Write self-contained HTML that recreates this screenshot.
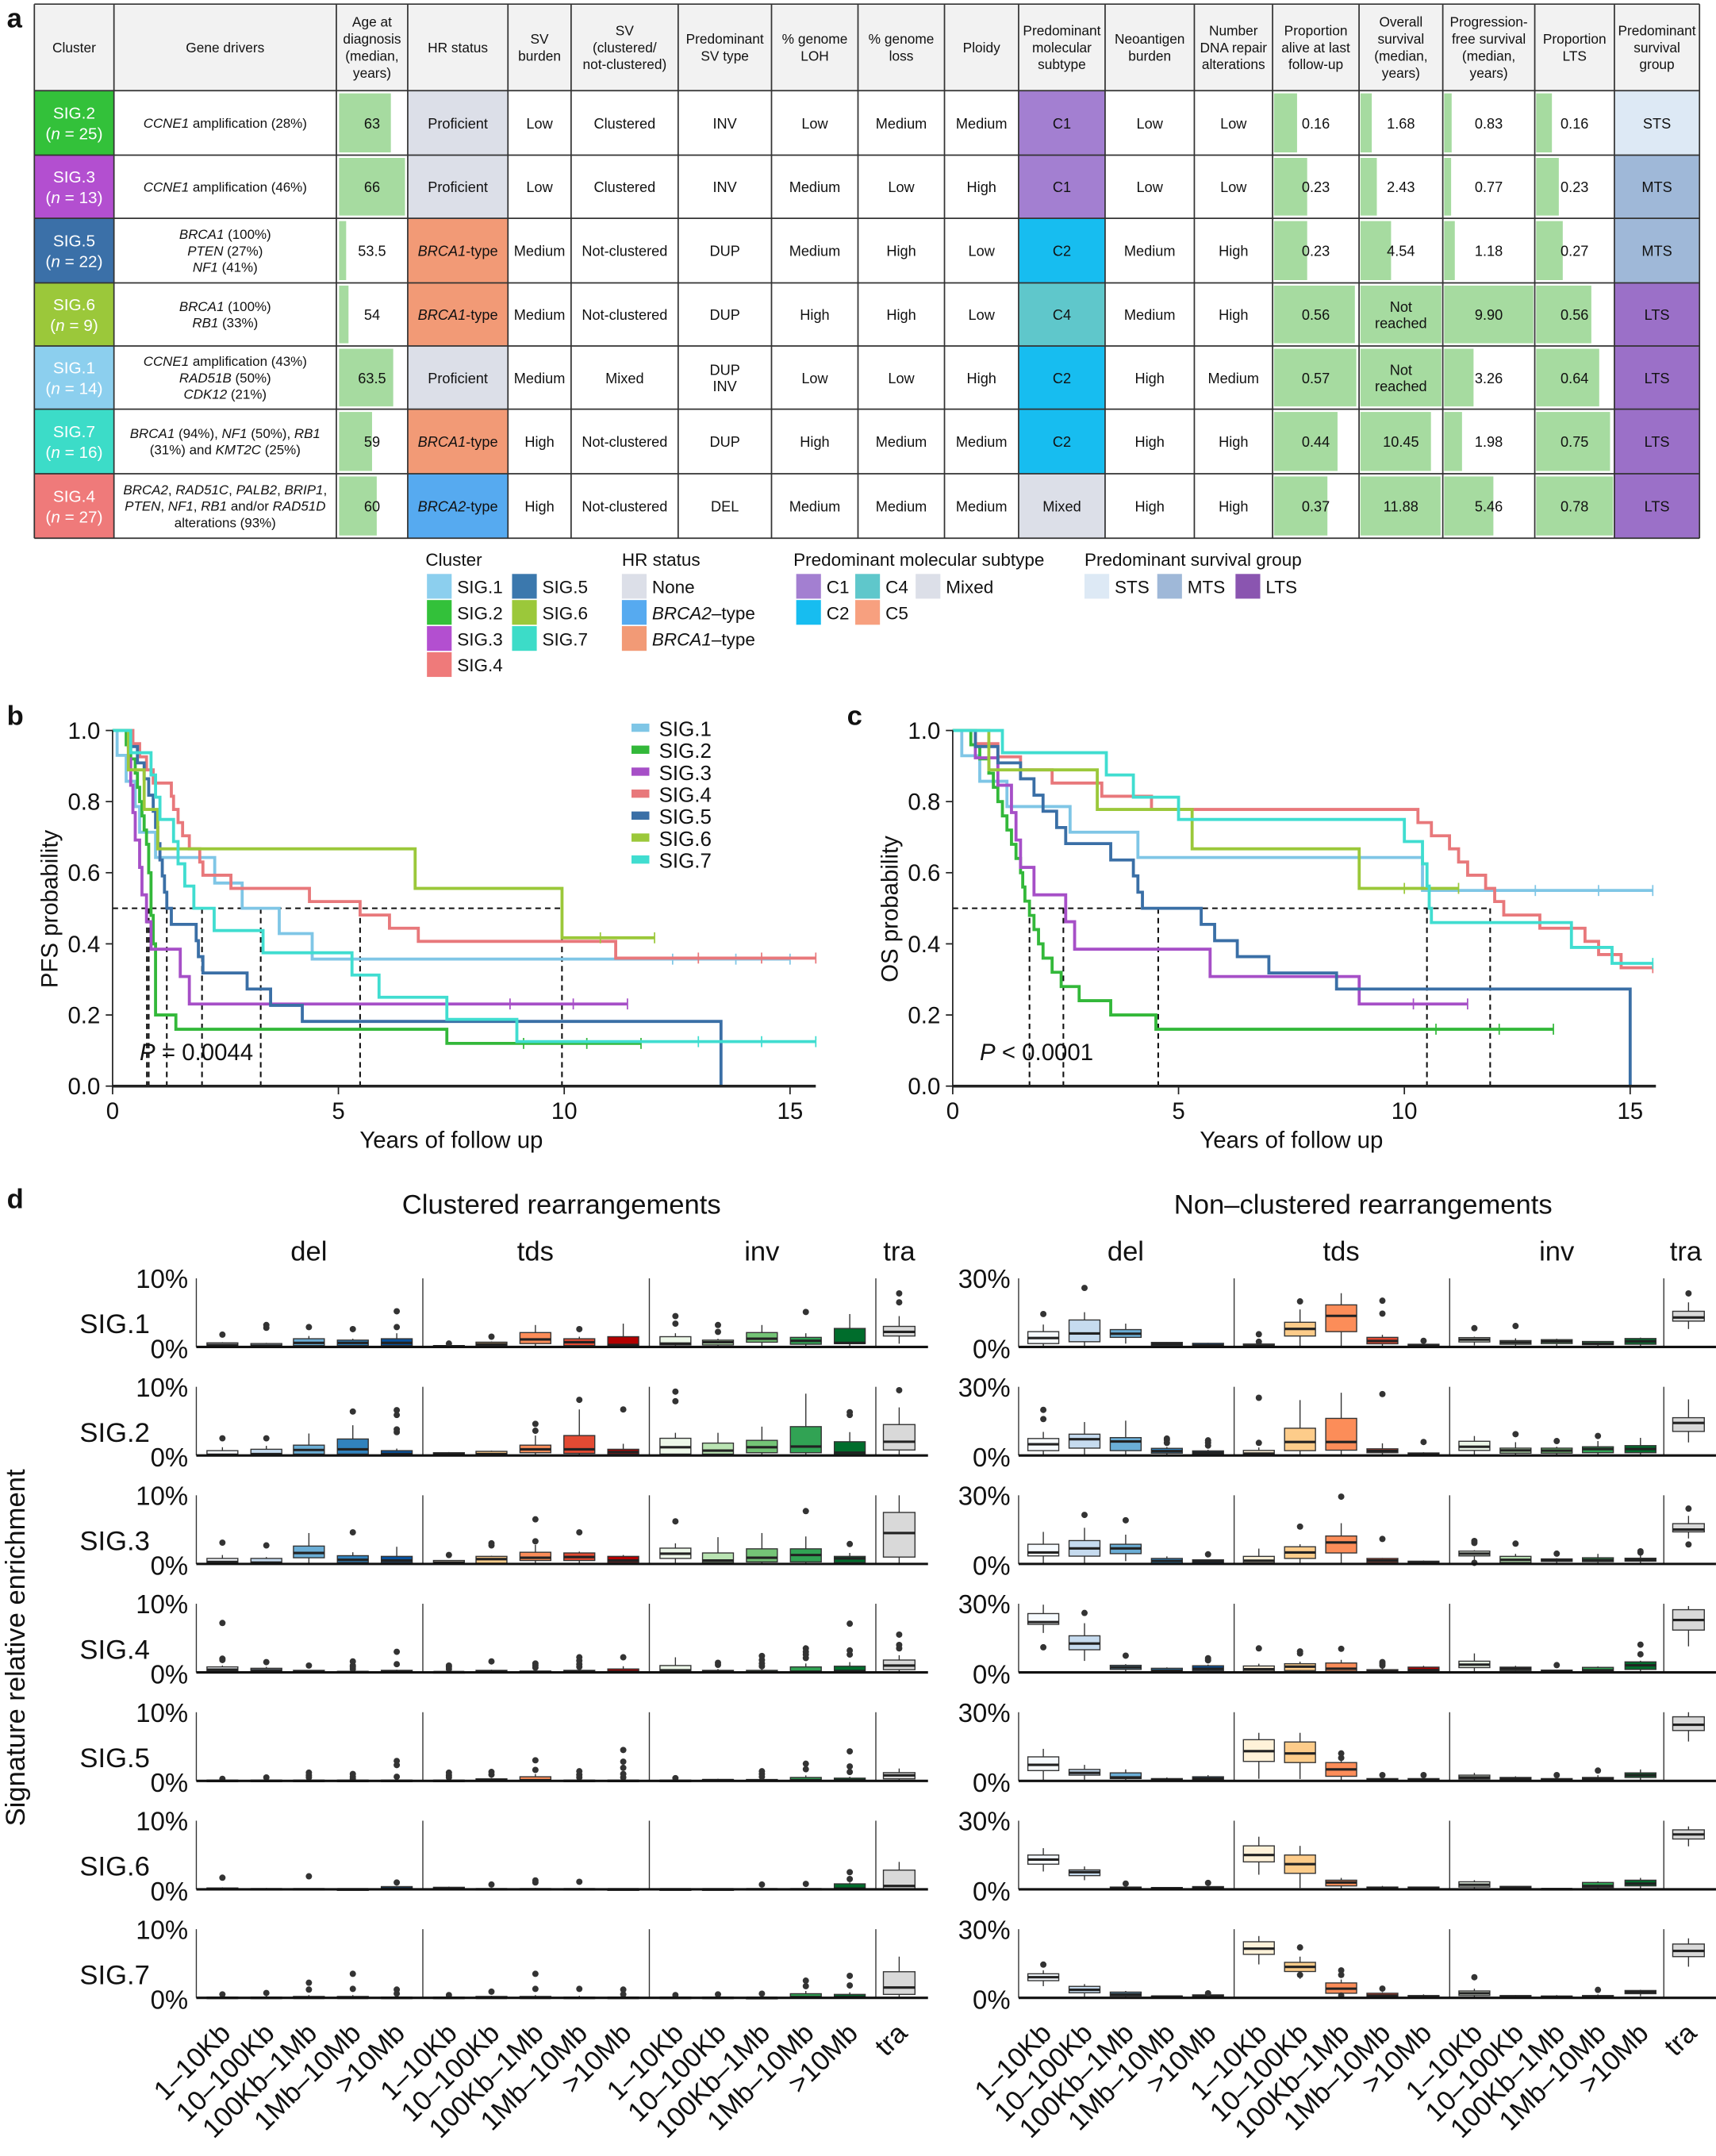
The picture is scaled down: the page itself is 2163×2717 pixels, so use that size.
<!DOCTYPE html>
<html><head><meta charset="utf-8"><style>
html,body{margin:0;padding:0;background:#fff}
svg{display:block}
text{font-family:"Liberation Sans",sans-serif;fill:#111}
</style></head><body>
<svg id="s" xmlns="http://www.w3.org/2000/svg" width="2163" height="2717" viewBox="0 0 1250 1570.2"></svg>
<script>
const S=document.getElementById('s');let h='';
function T(x,y,t,sz,opt){opt=opt||{};h+=`<text x="${x}" y="${y}" font-size="${sz}" text-anchor="${opt.a||'start'}"${opt.i?' font-style="italic"':''}${opt.b?' font-weight="bold"':''}${opt.f?` fill="${opt.f}" style="fill:${opt.f}"`:''}${opt.tr?` transform="${opt.tr}"`:''}>${t}</text>`;}
function R(x,y,w,hh,f,st){h+=`<rect x="${x}" y="${y}" width="${w}" height="${hh}" fill="${f}"${st?` stroke="${st}" stroke-width="0.8"`:''}/>`;}
function L(x1,y1,x2,y2,c,w,d){h+=`<line x1="${x1}" y1="${y1}" x2="${x2}" y2="${y2}" stroke="${c||'#222'}" stroke-width="${w||1}"${d?` stroke-dasharray="${d}"`:''}/>`;}
// ---------- panel a table ----------
T(5,20,'a',20,{b:1});
const cx=[25,83,245,297,370,416,494,562,625,688,742,805,870,927,990,1051,1118,1176,1238];
const ry=[3,66,113,159,206,252,298,345,392];
R(25,3,1213,63,'#f2f2f2');
const hdr=[['Cluster'],['Gene drivers'],['Age at','diagnosis','(median,','years)'],['HR status'],['SV','burden'],['SV','(clustered/','not-clustered)'],['Predominant','SV type'],['% genome','LOH'],['% genome','loss'],['Ploidy'],['Predominant','molecular','subtype'],['Neoantigen','burden'],['Number','DNA repair','alterations'],['Proportion','alive at last','follow-up'],['Overall','survival','(median,','years)'],['Progression-','free survival','(median,','years)'],['Proportion','LTS'],['Predominant','survival','group']];
hdr.forEach((a,i)=>{const m=(cx[i]+cx[i+1])/2;const y0=34.5-(a.length-1)*6.2+3.5;a.forEach((t,j)=>T(m,y0+j*12.4,t,10,{a:'middle'}));});
const cl=[['SIG.2','25','#33c13a'],['SIG.3','13','#b34fd0'],['SIG.5','22','#3b70a8'],['SIG.6','9','#9bc83a'],['SIG.1','14','#8ccfee'],['SIG.7','16','#3cdcc8'],['SIG.4','27','#ef7a7a']];
const genes=[['<tspan font-style="italic">CCNE1</tspan> amplification (28%)'],['<tspan font-style="italic">CCNE1</tspan> amplification (46%)'],['<tspan font-style="italic">BRCA1</tspan> (100%)','<tspan font-style="italic">PTEN</tspan> (27%)','<tspan font-style="italic">NF1</tspan> (41%)'],['<tspan font-style="italic">BRCA1</tspan> (100%)','<tspan font-style="italic">RB1</tspan> (33%)'],['<tspan font-style="italic">CCNE1</tspan> amplification (43%)','<tspan font-style="italic">RAD51B</tspan> (50%)','<tspan font-style="italic">CDK12</tspan> (21%)'],['<tspan font-style="italic">BRCA1</tspan> (94%), <tspan font-style="italic">NF1</tspan> (50%), <tspan font-style="italic">RB1</tspan>','(31%) and <tspan font-style="italic">KMT2C</tspan> (25%)'],['<tspan font-style="italic">BRCA2</tspan>, <tspan font-style="italic">RAD51C</tspan>, <tspan font-style="italic">PALB2</tspan>, <tspan font-style="italic">BRIP1</tspan>,','<tspan font-style="italic">PTEN</tspan>, <tspan font-style="italic">NF1</tspan>, <tspan font-style="italic">RB1</tspan> and/or <tspan font-style="italic">RAD51D</tspan>','alterations (93%)']];
const age=[63,66,53.5,54,63.5,59,60];
const hr=[['Proficient','#dcdfe8'],['Proficient','#dcdfe8'],['BRCA1-type','#f29a76',1],['BRCA1-type','#f29a76',1],['Proficient','#dcdfe8'],['BRCA1-type','#f29a76',1],['BRCA2-type','#56aaf0',1]];
const txt=[['Low','Clustered','INV','Low','Medium','Medium'],['Low','Clustered','INV','Medium','Low','High'],['Medium','Not-clustered','DUP','Medium','High','Low'],['Medium','Not-clustered','DUP','High','High','Low'],['Medium','Mixed','DUP|INV','Low','Low','High'],['High','Not-clustered','DUP','High','Medium','Medium'],['High','Not-clustered','DEL','Medium','Medium','Medium']];
const mol=[['C1','#a37fd1'],['C1','#a37fd1'],['C2','#17bdf0'],['C4','#5fc7cb'],['C2','#17bdf0'],['C2','#17bdf0'],['Mixed','#dcdfe8']];
const neo=[['Low','Low'],['Low','Low'],['Medium','High'],['Medium','High'],['High','Medium'],['High','High'],['High','High']];
const alive=[.16,.23,.23,.56,.57,.44,.37],os=[1.68,2.43,4.54,'NR','NR',10.45,11.88],pfs=[.83,.77,1.18,9.90,3.26,1.98,5.46],lts=[.16,.23,.27,.56,.64,.75,.78];
const grp=[['STS','#dde9f5'],['MTS','#9fb8d8'],['MTS','#9fb8d8'],['LTS','#9b70c8'],['LTS','#9b70c8'],['LTS','#9b70c8'],['LTS','#9b70c8']];
const G='#a6dba0';
for(let r=0;r<7;r++){const y=ry[r+1],y2=ry[r+2],hh=y2-y,my=(y+y2)/2;
 R(25,y,58,hh,cl[r][2]);T(54,my-3,cl[r][0],12,{a:'middle',f:'#fff'});h+=`<text x="54" y="${my+12}" font-size="12" text-anchor="middle" style="fill:#fff">(<tspan font-style="italic">n</tspan> = ${cl[r][1]})</text>`;
 const g=genes[r];g.forEach((t,j)=>h+=`<text x="164" y="${my+3.5-(g.length-1)*6+j*12}" font-size="9.8" text-anchor="middle">${t}</text>`);
 R(247,y+2,Math.max(3,(age[r]-52)/14*48),hh-4,G);T(271,my+4,age[r],10.5,{a:'middle'});
 R(297,y,73,hh,hr[r][1]);if(hr[r][2]){const p=hr[r][0].split('-');h+=`<text x="333.5" y="${my+4}" font-size="10.5" text-anchor="middle"><tspan font-style="italic">${p[0]}</tspan>-${p[1]}</text>`}else T(333.5,my+4,hr[r][0],10.5,{a:'middle'});
 const cols=[[370,416],[416,494],[494,562],[562,625],[625,688],[688,742]];
 txt[r].forEach((t,j)=>{const m=(cols[j][0]+cols[j][1])/2;const ps=t.split('|');ps.forEach((q,k)=>T(m,my+4-(ps.length-1)*6+k*12,q,10.5,{a:'middle'}));});
 R(742,y,63,hh,mol[r][1]);T(773.5,my+4,mol[r][0],10.5,{a:'middle'});
 T(837.5,my+4,neo[r][0],10.5,{a:'middle'});T(898.5,my+4,neo[r][1],10.5,{a:'middle'});
 R(928,y+2,alive[r]/.57*60,hh-4,G);T(958.5,my+4,alive[r].toFixed(2),10.5,{a:'middle'});
 if(os[r]==='NR'){R(991,y+2,59,hh-4,G);T(1020.5,my-2,'Not',10.5,{a:'middle'});T(1020.5,my+10,'reached',10.5,{a:'middle'});}
 else{R(991,y+2,os[r]/12*59,hh-4,G);T(1020.5,my+4,os[r].toFixed(2),10.5,{a:'middle'});}
 R(1052,y+2,pfs[r]/9.9*65,hh-4,G);T(1084.5,my+4,pfs[r].toFixed(2),10.5,{a:'middle'});
 R(1119,y+2,lts[r]/.78*56,hh-4,G);T(1147,my+4,lts[r].toFixed(2),10.5,{a:'middle'});
 R(1176,y,62,hh,grp[r][1]);T(1207,my+4,grp[r][0],10.5,{a:'middle'});
}
ry.forEach(y=>L(25,y,1238,y,'#333',1));cx.forEach(x=>L(x,3,x,392,'#333',1));
// legend
function sw(x,y,c,t,it){R(x,y,18,18,c);if(it){const p=t.split('–');h+=`<text x="${x+22}" y="${y+14}" font-size="13"><tspan font-style="italic">${p[0]}</tspan>–${p[1]}</text>`}else T(x+22,y+14,t,13);}
T(310,412,'Cluster',13);
[['SIG.1','#8ccfee'],['SIG.2','#33c13a'],['SIG.3','#b34fd0'],['SIG.4','#ef7a7a']].forEach((a,i)=>sw(311,418+i*19,a[1],a[0]));
[['SIG.5','#3b78ad'],['SIG.6','#9bc83a'],['SIG.7','#3cdcc8']].forEach((a,i)=>sw(373,418+i*19,a[1],a[0]));
T(453,412,'HR status',13);
sw(453,418,'#dcdfe8','None');sw(453,437,'#56aaf0','BRCA2–type',1);sw(453,456,'#f29a76','BRCA1–type',1);
T(578,412,'Predominant molecular subtype',13);
sw(580,418,'#a37fd1','C1');sw(623,418,'#5fc7cb','C4');sw(667,418,'#dcdfe8','Mixed');sw(580,437,'#17bdf0','C2');sw(623,437,'#f7a07f','C5');
T(790,412,'Predominant survival group',13);
sw(790,418,'#dde9f5','STS');sw(843,418,'#9fb8d8','MTS');sw(900,418,'#8a55b0','LTS');
// ---------- KM ----------
const KC={1:'#7fc6e6',2:'#33b83a',3:'#a64fc7',4:'#e8787b',5:'#3a6fa6',6:'#9bc83a',7:'#40ddd0'};
function km(x0,lab,ylab,ptxt,data,dash,vl,hend){
 const X=t=>x0+t*32.9,Y=s=>791-s*259;
 T(lab[0],528,lab[1],20,{b:1});
 L(X(0),Y(.5),X(hend),Y(.5),'#111',1.2,'4,3');vl.forEach(t=>L(X(t),Y(.5),X(t),791,'#111',1.2,'4,3'));
 for(const k of [1,2,3,4,5,6,7]){const d=data[k];let p=`M${X(0)},${Y(1)}`;for(const [t,s] of d[0]){p+=`H${X(t).toFixed(1)}V${Y(s).toFixed(1)}`;}p+=`H${X(d[1]).toFixed(1)}`;
  h+=`<path d="${p}" fill="none" stroke="${KC[k]}" stroke-width="2.2"/>`;
  const lst=d[0][d[0].length-1];const last=lst[1];if(last>0){[d[1],d[1]-1.2,d[1]-2.6].forEach(t=>{if(t>lst[0]+0.2)L(X(t),Y(last)-4,X(t),Y(last)+4,KC[k],1);});}}
 L(X(0),532,X(0),792,'#222',1);L(X(0),791,X(15.57),791,'#222',2);
 [0,.2,.4,.6,.8,1].forEach(v=>{L(X(0)-5,Y(v),X(0),Y(v),'#222',1);T(X(0)-9,Y(v)+6,v.toFixed(1),17,{a:'end'});});
 [0,5,10,15].forEach(v=>{L(X(v),791,X(v),797,'#222',1);T(X(v),815,v,17,{a:'middle'});});
 T(X(7.5),836,'Years of follow up',17,{a:'middle'});
 T(x0-40,662,ylab,17,{a:'middle',tr:`rotate(-90 ${x0-40} 662)`});
 h+=`<text x="${X(0.6)}" y="772" font-size="17"><tspan font-style="italic">P</tspan> ${ptxt}</text>`;
}
const pfsD={1:[[[0.1,.93],[0.3,.857],[0.5,.786],[0.6,.714],[0.95,.643],[2.26,.571],[2.87,.5],[3.69,.429],[4.42,.357]],15.0],
2:[[[0.3,.96],[0.4,.92],[0.5,.88],[0.55,.84],[0.6,.80],[0.65,.76],[0.7,.72],[0.75,.68],[0.8,.6],[0.85,.48],[0.9,.4],[0.95,.2],[1.4,.16],[7.4,.12]],11.7],
3:[[[0.35,.92],[0.4,.846],[0.45,.769],[0.5,.692],[0.6,.615],[0.65,.538],[0.75,.462],[0.85,.385],[1.5,.308],[1.7,.231]],11.4],
4:[[[0.45,.963],[0.6,.926],[0.75,.889],[0.9,.852],[1.3,.815],[1.35,.778],[1.45,.741],[1.55,.704],[1.7,.667],[1.93,.63],[2.0,.593],[2.62,.556],[4.36,.519],[5.48,.481],[6.13,.444],[6.77,.407],[11.14,.36]],15.57],
5:[[[0.35,.955],[0.55,.909],[0.7,.864],[0.8,.818],[0.9,.773],[0.95,.727],[1.0,.682],[1.05,.636],[1.1,.591],[1.15,.545],[1.2,.5],[1.3,.455],[1.85,.409],[1.9,.364],[2.0,.318],[2.98,.273],[3.5,.227],[4.2,.182],[13.47,0]],13.47],
6:[[[0.35,.889],[0.7,.778],[1.0,.667],[6.7,.556],[9.95,.417]],12.0],
7:[[[0.4,.9375],[0.85,.875],[0.95,.8125],[1.05,.75],[1.35,.6875],[1.45,.625],[1.6,.5625],[1.8,.5],[2.25,.4375],[3.33,.375],[5.3,.3125],[5.9,.25],[7.4,.1875],[8.95,.125]],15.57]};
const osD={1:[[[0.2,.929],[0.6,.857],[1.2,.786],[2.6,.714],[4.1,.643],[10.4,.55]],15.5],
2:[[[0.4,.96],[0.6,.92],[0.8,.88],[0.9,.84],[1.0,.8],[1.1,.76],[1.2,.72],[1.3,.68],[1.4,.64],[1.5,.6],[1.55,.56],[1.6,.52],[1.7,.48],[1.8,.44],[1.9,.4],[2.0,.36],[2.2,.32],[2.4,.28],[2.8,.24],[3.5,.2],[4.5,.16]],13.3],
3:[[[0.5,.923],[1.0,.846],[1.3,.769],[1.4,.692],[1.5,.615],[1.8,.538],[2.5,.462],[2.7,.385],[5.7,.308],[9.0,.231]],11.4],
4:[[[0.5,.963],[1.0,.926],[1.5,.889],[2.2,.852],[3.3,.815],[4.4,.778],[10.3,.741],[10.6,.704],[11.0,.667],[11.2,.63],[11.4,.593],[11.8,.556],[12.0,.519],[12.2,.481],[13.0,.444],[14.0,.407],[14.3,.37],[14.8,.333]],15.5],
5:[[[0.5,.955],[1.0,.909],[1.5,.864],[1.8,.818],[2.0,.773],[2.3,.727],[2.5,.682],[3.5,.636],[4.0,.591],[4.1,.545],[4.2,.5],[5.5,.455],[5.8,.409],[6.3,.364],[7.0,.318],[8.5,.273],[15.0,0]],15.0],
6:[[[0.8,.889],[3.2,.778],[5.3,.667],[9.0,.556]],11.2],
7:[[[1.1,.9375],[3.4,.875],[4.0,.8125],[5.0,.75],[10.0,.6875],[10.4,.625],[10.5,.5625],[10.55,.5],[10.6,.46],[13.7,.39],[14.6,.345]],15.5]};
km(82,[5,'b'],'PFS probability','= 0.0044',pfsD,1,[0.76,0.8,1.2,1.98,3.28,5.48,9.95],9.95);
km(694,[617,'c'],'OS probability','&lt; 0.0001',osD,1,[1.7,2.45,4.55,10.5,11.9],11.9);
[1,2,3,4,5,6,7].forEach((k,i)=>{R(460,527+i*16,13,6,KC[k]);T(480,536+i*16,'SIG.'+k,15);});
// ---------- panel d ----------
T(5,880,'d',20,{b:1});
T(409,884,'Clustered rearrangements',20,{a:'middle'});T(993,884,'Non–clustered rearrangements',20,{a:'middle'});
[['del',225],['tds',390],['inv',555],['tra',655],['del',820],['tds',977],['inv',1134],['tra',1228]].forEach(a=>T(a[1],918,a[0],20,{a:'middle'}));
T(18,1200,'Signature relative enrichment',20,{a:'middle',tr:'rotate(-90 18 1200)'});
const pal=[['#f7fbff','#c6dbef','#6baed6','#3182bd','#08519c'],['#fff2d9','#fdcc8a','#fc8d59','#e34a33','#b30000'],['#edf8e9','#bae4b3','#74c476','#31a354','#006d2c'],['#d9d9d9']];
const LX=[162,194,225,257,289,327,358,390,422,454,492,523,555,587,619,655];
const RX=[760,790,820,850,880,917,947,977,1007,1037,1074,1104,1134,1164,1195,1230];
const LD=[
[[0,.3,.6,.7,[1.8]],[0,.2,.5,.6,[2.8,3.2]],[.2,.6,1.2,1.6,[2.9]],[.2,.6,1,1.2,[2.6]],[.2,.6,1.2,2,[2.9,5.2]],[0,.1,.2,.2,[.5]],[.2,.4,.7,.8,[1.5]],[.5,1.1,2.1,3.2,[]],[.2,.7,1.2,1.5,[2.6]],[0,.3,1.5,3.4,[]],[.3,.5,1.5,2,[3.4,4.5]],[.3,.7,1,1.2,[2.2,3.2]],[.7,1.2,2.1,3.2,[]],[.4,.9,1.4,2,[5.1]],[.5,.6,2.7,4.8,[]],[1.6,2.2,3,4.5,[6.5,7.8]]],
[[0,.1,.7,1.2,[2.5]],[0,.2,.9,1.4,[2.5]],[.2,.8,1.5,3.2,[]],[.2,.9,2.4,4.4,[6.4]],[0,.2,.7,1,[3.4,3.8,5.9,6.6]],[0,.2,.4,.5,[]],[0,.2,.6,.7,[]],[.4,.9,1.5,2.9,[3.6,4.6]],[.3,.9,2.9,6.7,[8.1]],[.2,.5,.9,1.7,[6.7]],[.2,1.2,2.5,3.3,[7.9,9.3]],[.2,.7,1.8,3.3,[]],[.4,1.2,2.2,4.2,[]],[.4,1.3,4.2,9,[]],[.1,.4,2,3.4,[5.9,6.3]],[.8,2,4.5,7,[9.5]]],
[[0,.3,.8,1.3,[3.1]],[0,.2,.8,1,[2.7]],[.9,1.6,2.6,4.5,[]],[.2,.6,1.2,1.7,[4.6]],[.2,.5,1.1,2.5,[]],[0,.2,.5,.5,[1.3]],[.1,.7,1.1,1.2,[2.7,3]],[.5,.9,1.7,2.8,[3.3,6.5]],[.5,1,1.6,1.8,[4.6]],[.2,.5,1.1,1.3,[]],[.8,1.5,2.3,3,[6.2]],[.2,.5,1.6,3.9,[]],[.3,.9,2.2,4.5,[]],[.3,1.3,2.2,4,[7.7]],[.2,.8,1.1,1.6,[2.9]],[1,4.5,7.5,10,[]]],
[[.2,.4,.8,1,[1.8,2,7.2]],[.1,.3,.6,.8,[1.5]],[0,.1,.3,.3,[1]],[0,.05,.15,.2,[.5,.8,1,1.6]],[.05,.1,.3,.4,[1.2,3]],[0,.05,.1,.2,[.5,.8,1]],[0,.1,.3,.4,[1.6]],[0,.05,.2,.3,[.7,1,1.3]],[0,.1,.3,.5,[.8,1.2,1.7,2.2]],[0,.1,.5,.9,[2.2]],[.2,.3,1,2.2,[]],[0,.1,.3,.5,[1.1,1.4]],[0,.05,.3,.5,[.9,1.3,1.8,2.4]],[0,.1,.8,1.3,[2.1,2.6,3,3.5]],[0,.2,.9,1.5,[2.6,3.2,7.1]],[.4,1,1.8,2.5,[3.5,4,5.5]]],
[[0,0,.1,.1,[.3]],[0,0,.1,.1,[.5]],[0,0,.1,.2,[.5,.8,1.2]],[0,0,.1,.2,[.3,.6,1]],[0,0,.1,.2,[.6,2.3,2.9]],[0,0,.1,.1,[.5,.8,1.2]],[0,.1,.3,.4,[.9,1.3]],[0,.1,.6,1,[1.6,3]],[0,0,.1,.2,[.5,.9,1.4]],[0,0,.1,.2,[.5,1,1.9,2.8,4.5]],[0,0,.1,.1,[.4]],[0,.1,.2,.3,[]],[0,.05,.2,.3,[.6,1,1.4]],[0,.1,.5,.8,[1.7,2.5]],[0,.1,.4,.6,[1.3,2.1,4.3]],[.3,.8,1.2,1.8,[]]],
[[0,0,.2,.3,[1.7]],[0,0,.1,.2,[]],[0,0,.1,.1,[1.9]],[0,0,.05,.1,[]],[0,.1,.4,.5,[1]],[0,.1,.3,.4,[]],[0,0,.1,.2,[.7]],[0,0,.1,.2,[1,1.3]],[0,0,.1,.2,[1.1]],[0,0,.05,.1,[]],[0,0,.05,.1,[]],[0,0,.05,.1,[]],[0,0,.1,.2,[.7]],[0,0,.1,.2,[.8]],[0,.1,.8,1,[1.5,2.5]],[0,.5,2.8,4,[]]],
[[0,0,.1,.2,[.5]],[0,0,.1,.3,[.7]],[0,0,.2,.4,[1.2,2.2]],[0,0,.2,.4,[1.3,3.5]],[0,0,.1,.2,[.6,1.2]],[0,0,.1,.2,[.4]],[0,0,.2,.3,[.9]],[0,0,.2,.4,[1.3,3.5]],[0,0,.1,.3,[1.3]],[0,0,.1,.2,[.5,1.2]],[0,0,.1,.2,[.4]],[0,0,.1,.2,[.5]],[0,0,.05,.1,[.6]],[0,.1,.6,1,[1.7,2.5]],[0,.1,.5,.8,[1.8,3.2]],[.5,1.5,3.8,6,[]]]];
const RD=[
[[1.5,3.9,6.7,9.8,[14.4]],[2.3,5.9,11.8,15.2,[25.8]],[4.2,5.8,7.6,10.2,[]],[.6,1.3,2,2.2,[]],[.2,.7,1.6,1.8,[]],[0,.5,1.3,1.5,[2.3,5.6]],[4.8,7.9,10.8,16.4,[19.9]],[6.7,13.6,18.4,23.5,[]],[1.4,2.6,4.2,5.3,[14.6,20.2]],[.2,.5,1.2,1.5,[2.7]],[2.2,3.2,4.1,4.5,[8.2]],[1.2,2,2.8,3.8,[9.2]],[1.5,2.4,3.2,3.6,[]],[1,1.5,2.4,2.6,[]],[1.2,2.5,3.7,4.1,[]],[11.3,12.9,15.6,19.5,[23.4]]],
[[2.1,4.9,7.4,10.3,[15.9,19.9]],[3.2,7.1,9.3,14.6,[]],[2.1,6.1,7.8,15.2,[]],[1,1.9,3.1,3.7,[5.5,6.7,7.4]],[.5,1.2,2,2.5,[4.3,5.6,6.6]],[.3,.8,2.2,3.5,[5.5,25.2]],[2.1,5.9,11.9,24.2,[]],[2.3,5.9,16.2,27.4,[]],[1.2,2,2.9,5.3,[26.8]],[.2,.5,1.1,1.4,[5.9]],[2.2,3.8,6.2,8.5,[]],[1,2.2,3.2,5.8,[9.3]],[1,2.1,3.2,3.8,[6.3]],[1.2,2.8,3.8,6.3,[8.5]],[1.2,2.8,4.3,7.7,[]],[10.5,14.2,16.5,24.5,[]]],
[[3.5,5,8.6,14,[]],[3.4,6.8,10.2,15.8,[21.4]],[4.5,6.8,8.6,12.8,[19.1]],[.3,1.3,2.4,3.3,[]],[.3,1.1,1.8,2,[4.2]],[.5,1.4,3.3,6.7,[]],[2.4,5,7.5,8.6,[16.3]],[4.8,9.4,12.2,17.8,[29.4]],[.6,1.5,2.4,2.6,[10.9]],[.2,.6,1.2,1.5,[]],[3.5,4.5,5.6,6,[.5,9.2,10]],[.6,1.8,3.3,4.4,[8.9]],[1.1,1.6,2.2,2.5,[4.5]],[1,1.7,2.7,4.4,[]],[1.2,1.8,2.5,4.3,[5,5.5]],[14,15,17.6,21,[8.5,24.2]]],
[[21,22,25.7,29.6,[11]],[9.9,12.6,16,21.5,[26]],[1.3,2.2,3.1,3.6,[7.3]],[.3,.8,1.8,2.2,[]],[.8,1.6,2.9,3.4,[5.3,6.2]],[.5,1.4,2.8,3.8,[10.5]],[.8,2.5,3.8,4.7,[8.3,9.2]],[.5,1.6,4.1,5.5,[10.3]],[0,.5,1.2,1.8,[3,3.8,4.5]],[.3,1,2.3,2.9,[]],[2.1,3.4,4.9,8.3,[]],[.8,1.6,2.3,2.9,[]],[0,.5,1,1.2,[3.2]],[.2,.9,2.2,2.6,[]],[1.3,3.1,4.6,5.1,[7.9,12.1]],[18.5,22.9,27.4,29,[]]],
[[4.5,7,10.5,14,[]],[2.5,3.5,5,7,[]],[1,1.5,3.5,5,[]],[.3,.5,1,1.5,[]],[.5,1,1.8,2.5,[]],[8.5,13,18,21,[]],[8,12,17,21,[]],[2,5,8,9,[10,12]],[.2,.5,1,1.5,[2.5]],[.2,.5,1,1.5,[2.5]],[.8,1.5,2.5,3.5,[]],[.3,.8,1.5,2,[]],[.2,.5,1,1.5,[2.5]],[.3,.8,1.5,2.5,[4.5]],[1.5,2.5,3.5,5,[]],[22,24.5,28,30,[]]],
[[11,13,15,18,[]],[6,7.5,8.5,10,[]],[.3,.5,1,1.5,[2.5]],[.2,.5,.8,1,[]],[.3,.7,1.2,1.5,[2.8]],[12,15,19,23,[]],[7,11,15,19,[]],[1.5,3,4,5,[]],[.3,.6,1,1.5,[]],[.3,.6,1,1.2,[]],[1,2,3.3,4,[]],[.3,.8,1.3,1.5,[]],[0,.1,.3,.5,[]],[.8,1.5,3,3.5,[]],[1.5,2.5,4,5,[]],[22,24,26,27.5,[]]],
[[7.5,9,10.5,12,[14.5]],[2.2,3.5,5,6,[]],[.8,1.5,2.5,3,[]],[.2,.5,.8,1,[]],[.3,.7,1.3,1.5,[2]],[19,21.5,24.5,27,[]],[11.5,13.5,15.5,18,[10,22]],[2,4,6.5,8,[1,10,12]],[.3,1,2,2.5,[4]],[.2,.5,1,1.5,[]],[1,2,3,4,[9]],[.2,.5,1,1.2,[]],[.2,.4,.8,1.2,[]],[.2,.5,1,1.5,[3.5]],[1.8,2.5,3.2,3.5,[]],[18,20.5,23.5,26,[]]]];
function panel(b,ax0,ax1,seps,XS,D,mx,lab){
 const Y=v=>b-v/mx*50;
 L(ax0,b-50,ax0,b,'#333',0.8);seps.forEach(x=>L(x,b-50,x,b,'#333',0.8));
 T(ax0-6,b-43,lab,19,{a:'end'});T(ax0-6,b+8,'0%',19,{a:'end'});
 D.forEach((d,i)=>{const x=XS[i],c=i==15?pal[3][0]:pal[Math.floor(i/5)][i%5];const w=i==15?23:22.5;
  const lo=Math.max(0,d[0]-(d[2]-d[0])*0.8);
  L(x,Y(d[3]),x,Y(d[2]),'#333',0.8);L(x,Y(d[0]),x,Y(lo),'#333',0.8);
  R(x-w/2,Y(d[2]),w,Math.max(1,Y(d[0])-Y(d[2])),c,'#333');
  L(x-w/2,Y(d[1]),x+w/2,Y(d[1]),'#222',1.8);
  d[4].forEach(o=>h+=`<circle cx="${x}" cy="${Y(o).toFixed(1)}" r="2.3" fill="#333"/>`);});
 L(ax0,b,ax1,b,'#111',1.8);
}
for(let r=0;r<7;r++){const b=981+r*79;
 T(58,b-10,'SIG.'+(r+1),20);
 panel(b,143,676,[308,473,638],LX,LD[r],10,'10%');
 panel(b,742,1250,[899,1056,1212],RX,RD[r],30,'30%');}
const xl=['1–10Kb','10–100Kb','100Kb–1Mb','1Mb–10Mb','&gt;10Mb'];
function xlabs(XS){XS.forEach((x,i)=>{const t=i==15?'tra':xl[i%5];T(x+7,1482,t,20,{a:'end',tr:`rotate(-45 ${x+7} 1482)`});});}
xlabs(LX);xlabs(RX);
S.innerHTML=h;
</script>
</body></html>
